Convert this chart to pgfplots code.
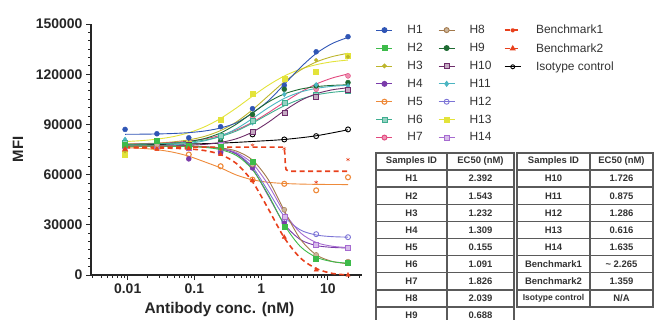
\documentclass[border=0pt]{standalone}
\usepackage{fontspec}
\setmainfont{Liberation Sans}
\usepackage{pgfplots}
\usepackage{pgfplotstable}
\pgfplotsset{compat=1.18}
\usetikzlibrary{plotmarks}

\definecolor{cH1}{HTML}{2F55B5}
\definecolor{cH2}{HTML}{3DBB4A}
\definecolor{cH3}{HTML}{BDB52C}
\definecolor{cH4}{HTML}{7A3BAA}
\definecolor{cH5}{HTML}{EE8A3A}
\definecolor{cH6}{HTML}{3FAE90}
\definecolor{cH7}{HTML}{E2487E}
\definecolor{cH8}{HTML}{A2784A}
\definecolor{cH9}{HTML}{1F6B33}
\definecolor{cH10}{HTML}{6E2D6A}
\definecolor{cH11}{HTML}{4BB5C2}
\definecolor{cH12}{HTML}{7C74D6}
\definecolor{cH13}{HTML}{E3E33A}
\definecolor{cH14}{HTML}{A66BD0}
\definecolor{cBM}{HTML}{E8401C}
\definecolor{tabline}{HTML}{5A5A5A}

% measured points (threefold dilution series)
\pgfplotstableread{
x       H1     H2    H3     H4    H5    H6     H7     H8    H9     H10    H11    H12   H13    H14   B1    B2    Iso
0.00914 87000  78000 74000  76000 74000 79000  77000  77000 78000  77000  81000  77000 72000  77000 76000 75000 77500
0.0274  84400  80500 78000  77000 76000 79500  78000  77500 78500  77500  80000  77000 80000  77000 76000 75000 78000
0.0823  82000  77000 78500  69400 72000 77000  77000  77000 78000  78000  78000  76000 78500  76000 76000 75500 78600
0.247   88600  76500 82000  73000 65000 83000  80000  76000 80000  77000  82000  74000 92600  78000 75000 72000 78000
0.741   99400  67600 96000  64000 57000 92000  94000  66000 96000  85600  91000  66000 108200 67000 77600 56400 84000
2.22    113400 29000 114000 31000 54500 103000 103000 39000 111000 97000  108000 32000 117500 35000 75500 22600 81000
6.67    133400 10000 128400 18000 50600 107600 111000 12000 113000 106400 113600 24400 121200 18000 55400 3000  83000
20      142400 7600  130400 16000 58400 110000 119000 8000  115000 111000 113000 22600 131200 16400 69000 0     87000
}\pts

% fitted dose-response curves
\pgfplotstableread{
x       H1     H2    H3     H4    H5    H6     H7     H8    H9     H10    H11    H12   H13    H14   B2
0.00914 84080  77000 78260  77000 76100 78100  78230  77000 78090  77020  77100  77000 79740  77000 76000
0.0158  84150  77000 78470  77000 75700 78200  78400  77000 78180  77050  77200  77000 80280  77000 75960
0.0274  84290  77000 78850  77000 74900 78390  78680  77000 78390  77110  77410  77000 81180  77000 75900
0.0475  84560  76860 79540  76990 73400 78750  79170  76990 78840  77230  77820  76960 82650  76990 75740
0.0823  85080  76730 80760  76860 71000 79420  79990  76890 79750  77500  78640  76870 85020  76850 75350
0.1425  86060  76250 82860  76540 67600 80640  81330  76650 81570  78070  80200  76570 88590  76540 74370
0.247   87860  74890 86320  75480 64000 82750  83480  75970 84900  79220  82990  75580 93590  75640 71990
0.428   91000  71360 91570  72180 59700 86090  86700  74020 90200  81460  87470  72530 99900  73100 66530
0.741   96800  62970 98750  63460 56900 90740  91290  68690 96900  85420  93500  64520 106850 66630 55770
1.283   104100 47880 107130 47170 55400 96090  97000  56840 103400 91290  100000 49860 113430 53760 39400
2.22    113900 29980 115450 30490 54690 101130 103250 38450 108200 98170  105530 35040 118930 37410 22250
3.85    123900 17080 122350 21200 54340 105020 109190 21550 111050 104180 109300 26970 122960 25330 10240
6.67    132400 10620 127300 17650 54170 107630 114110 12070 112560 108280 111520 23920 125680 19460 3850
11.55   138300 8010  130500 16500 54080 109150 117700 8140  113300 110660 112740 22930 127420 17200 970
20      142000 7040  132500 16150 54040 110010 120140 6730  113680 111880 113370 22630 128470 16400 0
}\fit

\pgfplotstableread{
x      y
0.00914 76400
0.0823  76400
0.741   76400
2.2     76400
2.27    72000
2.3     66000
2.36    63000
2.6     62000
20      62000
}\fitBone

\pgfplotstableread{
x      y
0.00914 77800
0.0823  78300
0.247   78800
0.741   79800
2.22    81000
6.67    83200
20      86800
}\fitIso

\pgfplotsset{
  sH1/.style={color=cH1, mark=*},
  sH2/.style={color=cH2, mark=square*},
  sH3/.style={color=cH3, mark=*, mark size=1.9bp},
  sH4/.style={color=cH4, mark=*},
  sH5/.style={color=cH5, mark=o, mark options={line width=1.1bp}},
  sH6/.style={color=cH6, mark=square*, mark options={fill=cH6!55}},
  sH7/.style={color=cH7, mark=*, mark options={fill=cH7!60}},
  sH8/.style={color=cH8, mark=*, mark options={fill=cH8!55}},
  sH9/.style={color=cH9, mark=*},
  sH10/.style={color=cH10, mark=square*, mark options={fill=cH10!40}},
  sH11/.style={color=cH11, mark=diamond*},
  sH12/.style={color=cH12, mark=o, mark options={line width=0.9bp}},
  sH13/.style={color=cH13, mark=square*},
  sH14/.style={color=cH14, mark=square*, mark options={fill=cH14!45}},
  sB1/.style={color=cBM, mark=asterisk, mark size=2bp, mark options={solid}},
  sB2/.style={color=cBM, mark=triangle*, mark options={solid}},
  sIso/.style={color=black, mark=o, mark options={fill=white, line width=0.9bp}},
  curve/.style={no marks, smooth, line width=0.9bp, forget plot},
  dots/.style={only marks, forget plot},
  bench/.style={line width=1.6bp, dash pattern=on 5bp off 3.5bp},
  keylegend/.style={
    legend image code/.code={\draw[mark repeat=2, mark phase=2, ##1]
       plot coordinates {(0bp,0bp) (8bp,0bp) (16bp,0bp)};},
    legend cell align=left,
    legend style={anchor=north west, draw=none, fill=none, row sep=5.1bp,
      font=\fontsize{12}{12}\selectfont, text=black!80,
      nodes={inner sep=1.5bp},
      /tikz/every odd column/.append style={column sep=13bp},
      /tikz/every even column/.append style={column sep=14bp}},
  },
}

\newcommand\tabfont{\bfseries\fontsize{9.5}{10}\selectfont\color{black!80}}

\begin{document}
\begin{tikzpicture}
\useasboundingbox (0,0) rectangle (654bp,320bp);
\clip (0,0) rectangle (654bp,320bp);
\begin{axis}[
  at={(91bp,45bp)}, anchor=south west,
  scale only axis, width=271bp, height=251bp,
  xmode=log, xmin=0.00282, xmax=32.4, ymin=0, ymax=150000,
  clip=false,
  scaled y ticks=false,
  axis lines=left,
  axis line style={-, line width=1.1bp, black!85},
  tick align=outside,
  major tick length=5bp, minor tick length=3bp,
  every tick/.style={line width=0.9bp, black!85},
  xtick={0.01,0.1,1,10}, xticklabels={0.01,0.1,1,10},
  minor xtick={0.003,0.004,0.005,0.006,0.007,0.008,0.009,
    0.02,0.03,0.04,0.05,0.06,0.07,0.08,0.09,
    0.2,0.3,0.4,0.5,0.6,0.7,0.8,0.9,
    2,3,4,5,6,7,8,9,20,30},
  ytick={0,30000,60000,90000,120000,150000},
  yticklabels={0,30000,60000,90000,120000,150000},
  minor ytick={5000,10000,15000,20000,25000,35000,40000,45000,50000,55000,
    65000,70000,75000,80000,85000,95000,100000,105000,110000,115000,
    125000,130000,135000,140000,145000},
  ticklabel style={font=\bfseries\fontsize{14}{14}\selectfont, text=black!85},
  /pgf/number format/assume math mode=true,
  xlabel={Antibody conc. (nM)},
  ylabel={MFI},
  every axis x label/.style={at={(axis description cs:0.474,0)}, anchor=base, yshift=-38bp,
    font=\bfseries\fontsize{15.5}{16}\selectfont, text=black!85},
  every axis y label/.style={at={(axis description cs:-0.269,0.5)}, rotate=90, anchor=center,
    font=\bfseries\fontsize{15}{16}\selectfont, text=black!85},
  every axis plot/.append style={mark size=2.5bp},
  keylegend,
  legend columns=2,
  legend style={at={(axis description cs:1.04,1.01)}},
]
% fitted curves
\addplot[sIso, curve] table[x=x, y=y] {\fitIso};
\addplot[sH5, curve] table[x=x, y=H5] {\fit};
\addplot[sH13, curve] table[x=x, y=H13] {\fit};
\addplot[sH3, curve] table[x=x, y=H3] {\fit};
\addplot[sH1, curve] table[x=x, y=H1] {\fit};
\addplot[sH7, curve] table[x=x, y=H7] {\fit};
\addplot[sH9, curve] table[x=x, y=H9] {\fit};
\addplot[sH11, curve] table[x=x, y=H11] {\fit};
\addplot[sH6, curve] table[x=x, y=H6] {\fit};
\addplot[sH10, curve] table[x=x, y=H10] {\fit};
\addplot[sH12, curve] table[x=x, y=H12] {\fit};
\addplot[sH4, curve] table[x=x, y=H4] {\fit};
\addplot[sH14, curve] table[x=x, y=H14] {\fit};
\addplot[sH8, curve] table[x=x, y=H8] {\fit};
\addplot[sH2, curve] table[x=x, y=H2] {\fit};
\addplot[sB2, curve, bench] table[x=x, y=B2] {\fit};
\addplot[sB1, no marks, forget plot, bench] table[x=x, y=y] {\fitBone};
% measured points
\addplot[sIso, dots] table[x=x, y=Iso] {\pts};
\addplot[sH5, dots] table[x=x, y=H5] {\pts};
\addplot[sH13, dots] table[x=x, y=H13] {\pts};
\addplot[sH3, dots] table[x=x, y=H3] {\pts};
\addplot[sH1, dots] table[x=x, y=H1] {\pts};
\addplot[sH7, dots] table[x=x, y=H7] {\pts};
\addplot[sH9, dots] table[x=x, y=H9] {\pts};
\addplot[sH11, dots] table[x=x, y=H11] {\pts};
\addplot[sH6, dots] table[x=x, y=H6] {\pts};
\addplot[sH10, dots] table[x=x, y=H10] {\pts};
\addplot[sH12, dots] table[x=x, y=H12] {\pts};
\addplot[sH4, dots] table[x=x, y=H4] {\pts};
\addplot[sH14, dots] table[x=x, y=H14] {\pts};
\addplot[sH8, dots] table[x=x, y=H8] {\pts};
\addplot[sH2, dots] table[x=x, y=H2] {\pts};
\addplot[sB1, dots] table[x=x, y=B1] {\pts};
\addplot[sB2, dots] table[x=x, y=B2] {\pts};
% legend for the antibody samples, two columns
\addlegendimage{sH1, line width=0.9bp}\addlegendentry{H1}
\addlegendimage{sH8, line width=0.9bp}\addlegendentry{H8}
\addlegendimage{sH2, line width=0.9bp}\addlegendentry{H2}
\addlegendimage{sH9, line width=0.9bp}\addlegendentry{H9}
\addlegendimage{sH3, line width=0.9bp}\addlegendentry{H3}
\addlegendimage{sH10, line width=0.9bp}\addlegendentry{H10}
\addlegendimage{sH4, line width=0.9bp}\addlegendentry{H4}
\addlegendimage{sH11, line width=0.9bp}\addlegendentry{H11}
\addlegendimage{sH5, line width=0.9bp}\addlegendentry{H5}
\addlegendimage{sH12, line width=0.9bp}\addlegendentry{H12}
\addlegendimage{sH6, line width=0.9bp}\addlegendentry{H6}
\addlegendimage{sH13, line width=0.9bp}\addlegendentry{H13}
\addlegendimage{sH7, line width=0.9bp}\addlegendentry{H7}
\addlegendimage{sH14, line width=0.9bp}\addlegendentry{H14}
\end{axis}

% legend for the references
\begin{axis}[
  at={(91bp,45bp)}, anchor=south west,
  scale only axis, width=271bp, height=251bp,
  xmin=0, xmax=1, ymin=0, ymax=1, hide axis,
  keylegend,
  legend columns=1,
  legend style={at={(axis description cs:1.512,1.01)}},
]
\addlegendimage{sB1, bench}\addlegendentry{Benchmark1}
\addlegendimage{sB2, bench}\addlegendentry{Benchmark2}
\addlegendimage{sIso, line width=0.9bp}\addlegendentry{Isotype control}
\end{axis}

% EC50 tables
\begin{scope}[x=1bp, y=1bp, line width=1.4bp, draw=tabline]
  % left table: header + H1..H9
  \foreach \i in {0,...,10} {\draw[tabline] (376,{320-153-17.1*\i}) -- (514,{320-153-17.1*\i});}
  \draw[tabline] (376,167.7) -- (376,-5);
  \draw[tabline] (447,167.7) -- (447,-5);
  \draw[tabline] (514,167.7) -- (514,-5);
  \foreach \a/\b [count=\i from 0] in {Samples ID/EC50 (nM), H1/2.392, H2/1.543, H3/1.232,
      H4/1.309, H5/0.155, H6/1.091, H7/1.826, H8/2.039, H9/0.688} {
    \node[font=\tabfont] at (411.5,{320-153-17.1*(\i+0.5)}) {\a};
    \node[font=\tabfont] at (480.5,{320-153-17.1*(\i+0.5)}) {\b};
  }
  % right table: header + H10..Isotype control
  \foreach \i in {0,...,9} {\draw[tabline] (517,{320-153-17.1*\i}) -- (653,{320-153-17.1*\i});}
  \draw[tabline] (517,167.7) -- (517,{320-153-17.1*9-0.7});
  \draw[tabline] (590,167.7) -- (590,{320-153-17.1*9-0.7});
  \draw[tabline] (653,167.7) -- (653,{320-153-17.1*9-0.7});
  \foreach \a/\b [count=\i from 0] in {Samples ID/EC50 (nM), H10/1.726, H11/0.875, H12/1.286,
      H13/0.616, H14/1.635, Benchmark1/\textasciitilde\ 2.265, Benchmark2/1.359} {
    \node[font=\tabfont] at (553.5,{320-153-17.1*(\i+0.5)}) {\a};
    \node[font=\tabfont] at (621.5,{320-153-17.1*(\i+0.5)}) {\b};
  }
  \node[font=\bfseries\fontsize{8.6}{9}\selectfont\color{black!80}] at (553.5,{320-153-17.1*8.5}) {Isotype control};
  \node[font=\tabfont] at (621.5,{320-153-17.1*8.5}) {N/A};
\end{scope}
\end{tikzpicture}
\end{document}
